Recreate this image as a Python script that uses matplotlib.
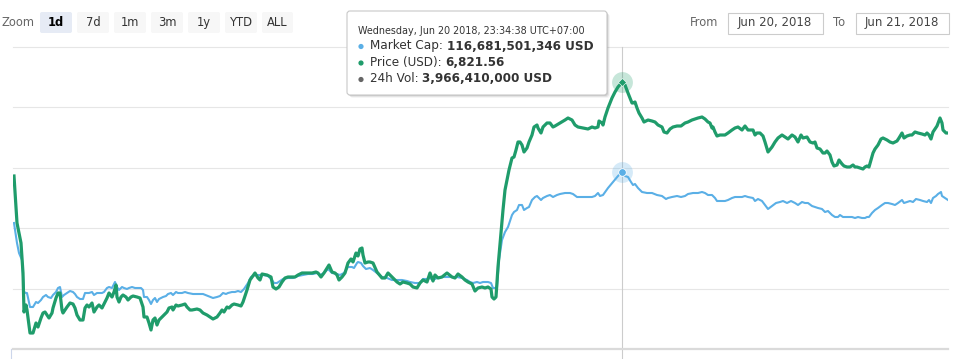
import matplotlib
matplotlib.use("Agg")
import matplotlib.pyplot as plt
from matplotlib.patches import FancyBboxPatch, Circle

# ================= DATA =================
# sample positions across the 1d window (chart time units)
T_PRICE = [14, 17, 21, 23, 24, 26, 27, 30, 33, 36, 38, 41, 43, 45, 47, 49, 52, 53, 56, 58,
           60, 62, 63, 67, 70, 73, 75, 77, 80, 83, 85, 87, 89, 92, 94, 97, 99, 102, 104, 107,
           109, 112, 114, 116, 117, 119, 121, 123, 126, 128, 131, 133, 137, 140, 143, 144, 147, 149, 151, 153,
           155, 157, 159, 162, 164, 167, 169, 172, 173, 176, 178, 182, 185, 187, 190, 192, 197, 200, 203, 207,
           210, 213, 217, 220, 222, 224, 227, 229, 232, 234, 238, 241, 243, 247, 250, 255, 258, 260, 262, 267,
           271, 273, 276, 279, 282, 285, 288, 292, 295, 298, 302, 307, 312, 316, 318, 321, 324, 329, 332, 335,
           337, 339, 342, 345, 348, 351, 353, 356, 358, 360, 362, 363, 365, 368, 370, 373, 377, 382, 385, 388,
           392, 397, 400, 403, 407, 410, 413, 417, 420, 423, 427, 430, 433, 435, 438, 442, 447, 452, 455, 458,
           462, 465, 468, 472, 475, 478, 482, 485, 488, 491, 492, 494, 496, 498, 501, 503, 505, 507, 509, 512,
           514, 516, 518, 520, 522, 524, 527, 529, 532, 534, 537, 538, 541, 543, 547, 550, 553, 555, 560, 565,
           568, 572, 575, 578, 583, 588, 592, 595, 598, 599, 602, 603, 605, 608, 612, 615, 618, 622, 625, 628,
           632, 633, 635, 637, 639, 642, 644, 648, 652, 655, 658, 662, 664, 667, 670, 673, 677, 681, 685, 688,
           692, 695, 698, 702, 705, 708, 710, 712, 713, 715, 717, 720, 725, 728, 732, 735, 738, 742, 745, 748,
           753, 755, 757, 760, 763, 765, 768, 772, 775, 778, 782, 785, 788, 792, 795, 798, 801, 803, 807, 810,
           813, 815, 817, 820, 823, 825, 827, 830, 832, 834, 837, 839, 842, 844, 847, 850, 853, 855, 857, 860,
           863, 865, 867, 869, 871, 873, 875, 878, 881, 883, 887, 890, 893, 897, 899, 902, 904, 907, 910, 912,
           915, 918, 922, 925, 927, 929, 931, 933, 935, 937, 940, 942, 943, 946, 948]

PRICE_USD = [6728, 6681, 6661, 6631, 6592, 6599, 6594, 6571, 6571, 6581, 6577, 6586, 6591, 6592, 6589, 6586, 6591, 6596, 6606, 6611,
             6611, 6594, 6591, 6597, 6601, 6600, 6596, 6589, 6584, 6584, 6596, 6599, 6597, 6601, 6592, 6597, 6599, 6596, 6600, 6606,
             6611, 6607, 6612, 6619, 6607, 6602, 6607, 6609, 6607, 6604, 6607, 6608, 6607, 6606, 6597, 6587, 6587, 6581, 6574, 6584,
             6586, 6579, 6584, 6587, 6589, 6592, 6596, 6597, 6594, 6599, 6598, 6599, 6600, 6597, 6594, 6594, 6595, 6594, 6591, 6589,
             6587, 6585, 6587, 6591, 6594, 6592, 6597, 6596, 6599, 6600, 6599, 6598, 6602, 6614, 6624, 6631, 6626, 6624, 6630, 6629,
             6627, 6617, 6615, 6617, 6622, 6626, 6627, 6627, 6627, 6629, 6631, 6631, 6631, 6632, 6631, 6627, 6631, 6639, 6632, 6631,
             6629, 6624, 6627, 6631, 6641, 6645, 6642, 6651, 6648, 6655, 6656, 6649, 6641, 6642, 6642, 6641, 6632, 6626, 6626, 6631,
             6627, 6622, 6620, 6622, 6621, 6620, 6617, 6616, 6621, 6624, 6622, 6631, 6623, 6629, 6626, 6627, 6631, 6627, 6626, 6630,
             6627, 6624, 6622, 6620, 6613, 6616, 6617, 6616, 6617, 6615, 6607, 6605, 6607, 6637, 6671, 6694, 6714, 6724, 6734, 6746,
             6747, 6754, 6762, 6762, 6759, 6752, 6756, 6762, 6769, 6777, 6779, 6776, 6771, 6777, 6781, 6781, 6777, 6778, 6781, 6784,
             6786, 6784, 6779, 6777, 6776, 6775, 6777, 6776, 6777, 6783, 6781, 6779, 6787, 6796, 6806, 6812, 6817, 6821.56, 6819, 6811,
             6801, 6801, 6802, 6796, 6791, 6786, 6782, 6784, 6783, 6782, 6779, 6777, 6772, 6771, 6775, 6777, 6778, 6778, 6781, 6782,
             6784, 6785, 6786, 6787, 6785, 6782, 6781, 6776, 6777, 6772, 6768, 6769, 6769, 6771, 6774, 6776, 6777, 6774, 6778, 6774,
             6774, 6769, 6771, 6771, 6768, 6762, 6752, 6757, 6762, 6766, 6769, 6767, 6765, 6769, 6767, 6762, 6769, 6766, 6767, 6762,
             6761, 6762, 6756, 6755, 6751, 6751, 6753, 6749, 6742, 6738, 6739, 6744, 6740, 6738, 6737, 6737, 6739, 6737, 6737, 6736,
             6735, 6737, 6738, 6737, 6744, 6751, 6755, 6759, 6765, 6766, 6764, 6762, 6761, 6763, 6766, 6771, 6766, 6768, 6769, 6769,
             6772, 6771, 6770, 6769, 6771, 6769, 6765, 6772, 6775, 6778, 6786, 6781, 6774, 6771, 6771]

T_MCAP = [14, 17, 19, 22, 24, 26, 27, 30, 33, 36, 38, 41, 43, 46, 48, 51, 53, 56, 58, 60,
          62, 64, 67, 70, 73, 75, 77, 80, 83, 85, 87, 89, 92, 94, 97, 99, 102, 104, 107, 109,
          112, 113, 115, 117, 119, 122, 124, 127, 129, 132, 135, 138, 141, 143, 144, 147, 149, 151, 153, 155,
          157, 159, 163, 166, 168, 171, 173, 176, 178, 182, 185, 188, 193, 198, 203, 208, 213, 217, 220, 223,
          226, 228, 232, 235, 238, 241, 244, 248, 251, 255, 259, 263, 268, 272, 274, 277, 280, 283, 288, 293,
          298, 303, 308, 313, 317, 320, 324, 328, 332, 337, 340, 344, 348, 352, 354, 357, 358, 361, 363, 366,
          370, 373, 377, 382, 387, 392, 397, 402, 407, 410, 415, 420, 423, 427, 430, 433, 437, 442, 447, 452,
          457, 462, 467, 470, 473, 477, 480, 483, 488, 491, 493, 495, 497, 499, 502, 505, 508, 512, 514, 517,
          519, 522, 524, 527, 529, 532, 535, 537, 541, 543, 547, 550, 553, 557, 560, 565, 570, 573, 577, 582,
          587, 592, 595, 598, 600, 603, 608, 613, 618, 622, 625, 628, 631, 633, 635, 638, 642, 647, 652, 657,
          662, 666, 668, 672, 677, 681, 685, 688, 693, 698, 702, 705, 708, 712, 715, 717, 720, 725, 728, 732,
          735, 738, 742, 745, 748, 753, 755, 758, 762, 765, 768, 772, 776, 780, 783, 787, 791, 795, 798, 802,
          805, 808, 812, 815, 818, 822, 825, 828, 832, 835, 838, 840, 843, 847, 852, 855, 858, 862, 865, 867,
          869, 872, 875, 878, 882, 885, 888, 892, 895, 898, 902, 904, 907, 910, 913, 916, 920, 923, 927, 929,
          931, 933, 936, 938, 941, 942, 945, 948]

MCAP_BN = [115.66, 115.26, 115.06, 114.92, 114.28, 114.26, 114.26, 113.98, 113.98, 114.08, 114.06, 114.12, 114.18, 114.22, 114.18, 114.16, 114.22, 114.28, 114.36, 114.38,
           114.18, 114.22, 114.26, 114.30, 114.28, 114.24, 114.18, 114.14, 114.14, 114.26, 114.26, 114.26, 114.28, 114.22, 114.26, 114.26, 114.26, 114.28, 114.36, 114.38,
           114.36, 114.40, 114.48, 114.38, 114.32, 114.38, 114.36, 114.34, 114.36, 114.38, 114.36, 114.36, 114.36, 114.32, 114.18, 114.18, 114.12, 114.04, 114.12, 114.16,
           114.08, 114.14, 114.18, 114.20, 114.24, 114.26, 114.22, 114.28, 114.26, 114.26, 114.28, 114.26, 114.24, 114.24, 114.24, 114.20, 114.16, 114.18, 114.20, 114.26,
           114.24, 114.26, 114.28, 114.28, 114.30, 114.28, 114.34, 114.46, 114.58, 114.62, 114.62, 114.62, 114.60, 114.52, 114.46, 114.46, 114.50, 114.54, 114.56, 114.56,
           114.60, 114.62, 114.64, 114.64, 114.66, 114.62, 114.66, 114.74, 114.66, 114.64, 114.62, 114.66, 114.78, 114.78, 114.76, 114.86, 114.88, 114.86, 114.80, 114.74,
           114.76, 114.72, 114.66, 114.58, 114.56, 114.52, 114.52, 114.52, 114.50, 114.48, 114.46, 114.46, 114.54, 114.54, 114.56, 114.52, 114.56, 114.58, 114.58, 114.58,
           114.58, 114.56, 114.52, 114.48, 114.46, 114.48, 114.46, 114.48, 114.48, 114.46, 114.36, 114.36, 114.38, 114.92, 115.32, 115.48, 115.58, 115.82, 115.88, 115.92,
           116.02, 116.02, 115.92, 115.96, 115.98, 116.12, 116.18, 116.20, 116.12, 116.16, 116.20, 116.22, 116.18, 116.22, 116.24, 116.26, 116.26, 116.24, 116.18, 116.18,
           116.18, 116.18, 116.20, 116.26, 116.20, 116.22, 116.36, 116.48, 116.60, 116.68, 116.60, 116.58, 116.48, 116.42, 116.44, 116.36, 116.28, 116.26, 116.26, 116.22,
           116.20, 116.14, 116.16, 116.18, 116.20, 116.18, 116.20, 116.24, 116.26, 116.26, 116.28, 116.26, 116.22, 116.22, 116.16, 116.10, 116.10, 116.10, 116.12, 116.16,
           116.18, 116.18, 116.18, 116.20, 116.18, 116.16, 116.10, 116.14, 116.10, 116.02, 115.94, 116.00, 116.06, 116.08, 116.10, 116.06, 116.10, 116.06, 116.02, 116.08,
           116.06, 116.06, 116.00, 115.98, 115.96, 115.94, 115.88, 115.90, 115.82, 115.78, 115.78, 115.82, 115.78, 115.78, 115.78, 115.76, 115.78, 115.76, 115.76, 115.78,
           115.78, 115.86, 115.92, 115.96, 116.02, 116.06, 116.06, 116.04, 116.02, 116.06, 116.12, 116.06, 116.08, 116.10, 116.08, 116.14, 116.12, 116.10, 116.08, 116.12,
           116.06, 116.16, 116.20, 116.24, 116.28, 116.20, 116.16, 116.12]

HOVER_T = 622
HOVER_PRICE = 6821.56
HOVER_MCAP = 116.681501346

ZOOM_BUTTONS = ["1d", "7d", "1m", "3m", "1y", "YTD", "ALL"]
DATE_FROM = "Jun 20, 2018"
DATE_TO = "Jun 21, 2018"
TOOLTIP_HEADER = "Wednesday, Jun 20 2018, 23:34:38 UTC+07:00"
TOOLTIP_ROWS = [("Market Cap: ", "116,681,501,346 USD"),
                ("Price (USD): ", "6,821.56"),
                ("24h Vol: ", "3,966,410,000 USD")]

# ================= STYLE =================
GREEN = "#1f9c6b"
BLUE = "#5aafe6"
GRAY = "#666666"
GRID = "#e6e6e6"
plt.rcParams["font.family"] = ["DejaVu Sans"]

W, H = 957, 359
fig = plt.figure(figsize=(W / 100, H / 100), dpi=100)
fig.patch.set_facecolor("white")

pos = [13 / W, 10 / H, 935 / W, 302 / H]
XLIM = (13, 948)
PRICE_LIM = (6555, 6857)
MCAP_LIM = (113.14, 119.18)

# base axes: grid + axis line
ax = fig.add_axes(pos)
ax.set_xlim(*XLIM)
ax.set_ylim(*PRICE_LIM)
ax.set_yticks([6615.4, 6675.8, 6736.2, 6796.6, 6857])
ax.set_xticks([])
ax.tick_params(axis="y", length=0, labelleft=False)
ax.grid(axis="y", color=GRID, lw=0.8)
for gl in ax.get_ygridlines():
    gl.set_clip_on(False)
for s in ["top", "left", "right"]:
    ax.spines[s].set_visible(False)
ax.spines["bottom"].set_color("#dadada")
ax.spines["bottom"].set_linewidth(1.6)
ax.plot([11, 11], [6555, 6546], color="#ccd6eb", lw=0.8, clip_on=False)
ax.axvline(HOVER_T, ymin=-10 / 302, ymax=1, color="#cccccc", lw=0.8, clip_on=False)

# market cap (own scale)
ax_mc = fig.add_axes(pos)
ax_mc.set_xlim(*XLIM)
ax_mc.set_ylim(*MCAP_LIM)
ax_mc.axis("off")
ax_mc.plot(T_MCAP, MCAP_BN, color=BLUE, lw=1.5, solid_joinstyle="round")
ax_mc.plot(HOVER_T, HOVER_MCAP, "o", ms=15, color=BLUE, alpha=0.25, mec="none")
ax_mc.plot(HOVER_T, HOVER_MCAP, "o", ms=5.5, color=BLUE, mec="white", mew=0.6)

# price on top
ax_p = fig.add_axes(pos)
ax_p.set_xlim(*XLIM)
ax_p.set_ylim(*PRICE_LIM)
ax_p.axis("off")
ax_p.plot(T_PRICE, PRICE_USD, color=GREEN, lw=2.3, solid_joinstyle="round")
ax_p.plot(HOVER_T, HOVER_PRICE, "o", ms=15, color=GREEN, alpha=0.25, mec="none", clip_on=False)
ax_p.plot(HOVER_T, HOVER_PRICE, "D", ms=4.5, color=GREEN, mec="white", mew=0.4, clip_on=False)

# ================= UI (pixel coords) =================
ui = fig.add_axes([0, 0, 1, 1], zorder=10)
ui.set_xlim(0, W)
ui.set_ylim(H, 0)
ui.axis("off")
ui.patch.set_alpha(0)

ui.text(2, 22, "Zoom", fontsize=8.3, color=GRAY, va="center", ha="left")
btn_x = [40, 77, 114, 151, 188, 225, 262]
btn_w = [32, 32, 32, 32, 32, 32, 31]
for i, (label, x0, bw) in enumerate(zip(ZOOM_BUTTONS, btn_x, btn_w)):
    sel = i == 0
    ui.add_patch(FancyBboxPatch((x0, 12), bw, 21, boxstyle="round,pad=0,rounding_size=2",
                                fc="#e6ebf5" if sel else "#f7f7f7", ec="none"))
    ui.text(x0 + bw / 2, 22.5, label, fontsize=8.3, color="#000000" if sel else "#333333",
            fontweight="bold" if sel else "normal", ha="center", va="center")

ui.text(690, 22, "From", fontsize=8.3, color=GRAY, va="center", ha="left")
ui.text(833, 22, "To", fontsize=8.3, color=GRAY, va="center", ha="left")
for x0, w, label in [(727.5, 95, DATE_FROM), (855.5, 93, DATE_TO)]:
    ui.add_patch(plt.Rectangle((x0, 12.5), w, 21, fc="white", ec="#cccccc", lw=0.8))
    ui.text(x0 + w / 2, 22.5, label, fontsize=8.5, color="#444444", ha="center", va="center")

# tooltip
for off, a in [(3, 0.04), (2, 0.07), (1, 0.1)]:
    ui.add_patch(FancyBboxPatch((347 + off, 11 + off), 260, 84,
                                boxstyle="round,pad=0,rounding_size=3", fc="black", ec="none", alpha=a))
ui.add_patch(FancyBboxPatch((347, 11), 260, 84, boxstyle="round,pad=0,rounding_size=3",
                            fc="white", ec="#c8c8c8", lw=0.8))
ui.text(358, 31.5, TOOLTIP_HEADER, fontsize=6.95, color="#333333", va="center", ha="left")

renderer = fig.canvas.get_renderer()
row_y = [46, 62.5, 79]
for (lab, val), yy, c in zip(TOOLTIP_ROWS, row_y, [BLUE, GREEN, GRAY]):
    ui.add_patch(Circle((361, yy + 0.5), 2.6, fc=c, ec="none"))
    t = ui.text(370, yy, lab, fontsize=8.65, color="#333333", va="center", ha="left")
    bb = t.get_window_extent(renderer)
    ui.text(bb.x1, yy, val, fontsize=8.65, color="#333333", fontweight="bold", va="center", ha="left")

fig.savefig("out.png", dpi=100)
